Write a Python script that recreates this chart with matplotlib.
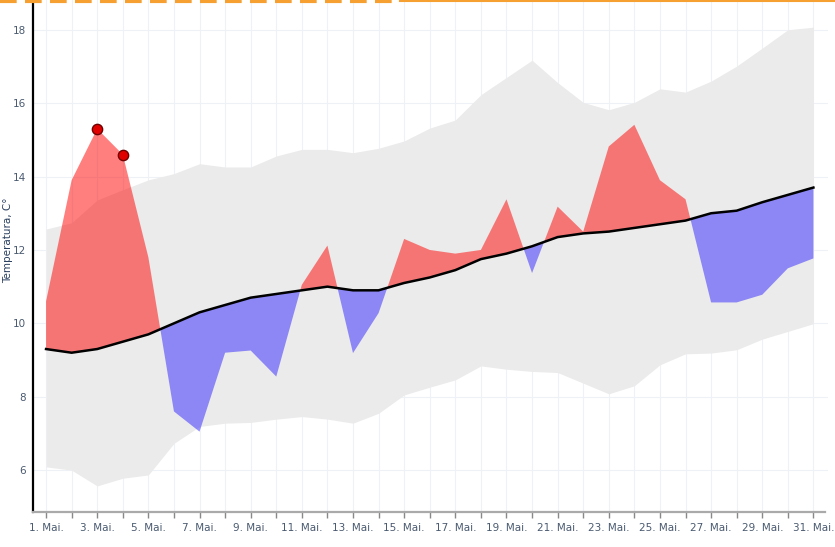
import numpy as np
import matplotlib
matplotlib.use('Agg')
import matplotlib.pyplot as plt
from matplotlib.lines import Line2D

# giorni di maggio
days = np.arange(1, 32)

# temperatura media (linea nera)
mean_t = [9.3, 9.2, 9.3, 9.5, 9.7, 10.0, 10.3, 10.5, 10.7, 10.8, 10.9,
          11.0, 10.9, 10.9, 11.1, 11.25, 11.45, 11.75, 11.9, 12.1, 12.35,
          12.45, 12.5, 12.6, 12.7, 12.8, 13.0, 13.07, 13.3, 13.5, 13.7]

# temperatura misurata
actual_t = [10.6, 13.9, 15.3, 14.6, 11.8, 7.6, 7.05, 9.2, 9.26, 8.55, 11.05,
            12.12, 9.19, 10.28, 12.3, 12.0, 11.9, 12.0, 13.38, 11.37, 13.18,
            12.5, 14.82, 15.41, 13.9, 13.38, 10.57, 10.57, 10.78, 11.5, 11.77]

# banda grigia (min / max storici)
band_low = [6.09, 6.0, 5.57, 5.78, 5.87, 6.73, 7.19, 7.28, 7.3, 7.39, 7.46,
            7.39, 7.28, 7.55, 8.05, 8.26, 8.46, 8.84, 8.75, 8.69, 8.66,
            8.37, 8.08, 8.3, 8.87, 9.17, 9.19, 9.28, 9.57, 9.78, 9.99]
band_high = [12.57, 12.74, 13.36, 13.64, 13.91, 14.08, 14.35, 14.26, 14.26, 14.56, 14.74,
             14.74, 14.65, 14.77, 14.97, 15.32, 15.54, 16.23, 16.7, 17.17, 16.56,
             16.02, 15.82, 16.02, 16.39, 16.3, 16.6, 17.01, 17.5, 18.0, 18.07]

# punti record
rec_days = [3, 4]
rec_vals = [15.3, 14.6]

tick_days = days[::2]
tick_labels = ['%d. Mai.' % d for d in tick_days]

mean_a = np.array(mean_t)
act_a = np.array(actual_t)

fig = plt.figure(figsize=(8.35, 5.47), dpi=100)
ax = fig.add_axes([33/835, 35/547, (828-33)/835, (547-35)/547])

ax.fill_between(days, band_low, band_high, color='#ebebeb', lw=0, zorder=1)
ax.fill_between(days, mean_a, act_a, where=act_a >= mean_a, interpolate=True,
                color=(1, 0, 0), alpha=0.5, lw=0, zorder=2)
ax.fill_between(days, mean_a, act_a, where=act_a <= mean_a, interpolate=True,
                color=(0.1, 0.05, 1), alpha=0.45, lw=0, zorder=2)
ax.plot(days, mean_t, color='black', lw=1.8, zorder=3)
ax.scatter(rec_days, rec_vals, s=55, color='#e00000', edgecolor='#700000',
           linewidth=1, zorder=4)

ax.set_xlim(0.49, 31.57)
ax.set_ylim(4.86, 18.81)

ax.set_xticks(days, minor=True)
ax.set_xticks(tick_days)
ax.set_xticklabels(tick_labels)
ax.set_yticks([6, 8, 10, 12, 14, 16, 18])
ax.tick_params(axis='x', which='both', direction='out', length=4, width=1,
               color='#888888', labelsize=7.5, labelcolor='#4a5a70', pad=4)
ax.tick_params(axis='y', length=0, labelsize=7.5, labelcolor='#4a5a70', pad=5)
ax.grid(True, which='both', color='#eef1f6', lw=0.8, zorder=0)
ax.set_axisbelow(True)

for s in ['top', 'right']:
    ax.spines[s].set_visible(False)
ax.spines['left'].set_color('black')
ax.spines['left'].set_linewidth(1.6)
ax.spines['bottom'].set_color('#aaaaaa')
ax.spines['bottom'].set_linewidth(1.6)
ax.spines['bottom'].set_bounds(0.49, 31.45)

ax.set_ylabel('Temperatura, C°', fontsize=7.5, color='#2a3f5f')
ax.yaxis.set_label_coords(-0.025, 0.53)

# titolo tagliato in alto (arancione)
fig.add_artist(Line2D([0, 395/835], [0.998, 0.998], color='#f5a030', lw=3,
                      linestyle=(0, (4, 2)), transform=fig.transFigure))
fig.add_artist(Line2D([400/835, 1], [0.999, 0.999], color='#f5a030', lw=1.5,
                      transform=fig.transFigure))

fig.savefig('out.png', dpi=100)
